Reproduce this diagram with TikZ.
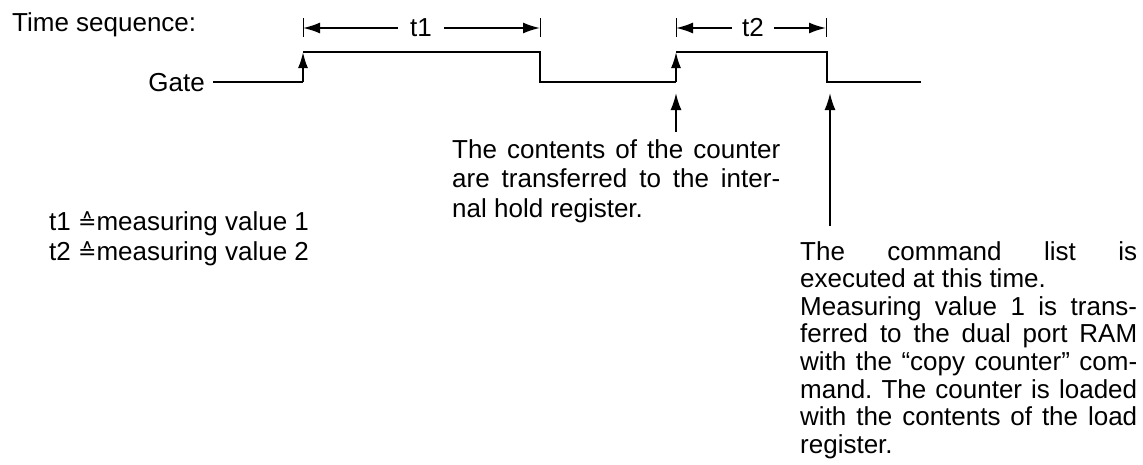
\documentclass[tikz,border=0pt]{standalone}
\usepackage{fontspec}
\setmainfont{Liberation Sans}
\newfontfamily\symfont{DejaVu Sans}
\usetikzlibrary{arrows.meta}
\newcommand\jline[2]{\hbox to #1{#2}}
\hbadness=10000
\frenchspacing
\begin{document}
\begin{tikzpicture}[x=1pt,y=-1pt,
  txt/.style={inner sep=0pt, font=\fontsize{26}{27.7}\selectfont\frenchspacing},
  sig/.style={line width=1.9pt, line join=miter},
  edgearrow/.style={line width=1.9pt, -{Latex[length=16pt,width=10pt]}},
  dim/.style={line width=1.7pt, -{Latex[length=17pt,width=11pt]}},
  tickline/.style={line width=0.9pt},
  pointer/.style={line width=1.9pt, -{Latex[length=17pt,width=11pt]}},
  tlabel/.style={txt, inner xsep=12pt}
]
\useasboundingbox (0,0) rectangle (1143,464);

% texts
\node[txt, anchor=base west] (title) at (12,31) {Time sequence:};
\node[txt, anchor=base east] (gate) at (205,91) {Gate};

% signal coordinates
\coordinate (g0) at (213,82);
\coordinate (r1l) at (303,82);
\coordinate (r1h) at (303,52);
\coordinate (f1h) at (540,52);
\coordinate (f1l) at (540,82);
\coordinate (r2l) at (676,82);
\coordinate (r2h) at (676,52);
\coordinate (f2h) at (827,52);
\coordinate (f2l) at (827,82);
\coordinate (gend) at (921,82);

\draw[sig] (g0) -- (r1l);
\draw[sig] (r1h) -- (f1h) -- (f1l) -- (r2l);
\draw[sig] (r2h) -- (f2h) -- (f2l) -- (gend);
\draw[edgearrow] (r1l) -- (r1h);
\draw[edgearrow] (r2l) -- (r2h);

% dimension t1
\coordinate (k1a) at (303,18); \coordinate (k1b) at (303,37);
\coordinate (k2a) at (540,18); \coordinate (k2b) at (540,37);
\coordinate (k1) at (303,28); \coordinate (k2) at (540,28);
\draw[tickline] (k1a) -- (k1b);
\draw[tickline] (k2a) -- (k2b);
\node[tlabel] (t1) at (421,28) {t1};
\draw[dim] (t1.west) -- (k1);
\draw[dim] (t1.east) -- (k2);

% dimension t2
\coordinate (k3a) at (676,18); \coordinate (k3b) at (676,37);
\coordinate (k4a) at (826,18); \coordinate (k4b) at (826,37);
\coordinate (k3) at (676,28); \coordinate (k4) at (826,28);
\draw[tickline] (k3a) -- (k3b);
\draw[tickline] (k4a) -- (k4b);
\node[tlabel, inner xsep=10pt] (t2) at (753,28) {t2};
\draw[dim] (t2.west) -- (k3);
\draw[dim] (t2.east) -- (k4);

% pointers
\coordinate (p1s) at (676,132);
\coordinate (p1e) at (676,93);
\draw[pointer] (p1s) -- (p1e);
\coordinate (p2s) at (830,226);
\coordinate (p2e) at (830,93);
\draw[pointer] (p2s) -- (p2e);

% left note block
\node[txt, anchor=base west] (hold) at (452,158) {\vtop{\baselineskip=29.5pt
  \jline{328pt}{The contents of the counter}%
  \jline{328pt}{are transferred to the inter-}%
  \hbox{nal hold register.}}};

% legend
\node[txt, anchor=base west] (m1) at (49,230) {t1 \raisebox{1pt}{\symfont\fontsize{22}{22}\selectfont ≙}measuring value 1};
\node[txt, anchor=base west] (m2) at (49,260) {t2 \raisebox{1pt}{\symfont\fontsize{22}{22}\selectfont ≙}measuring value 2};

% right note block
\node[txt, anchor=base west] (cmd) at (800,260) {\vtop{\baselineskip=27.6pt
  \jline{337pt}{The command list is}%
  \hbox{executed at this time.}%
  \jline{337pt}{Measuring value 1 is trans-}%
  \jline{337pt}{ferred to the dual port RAM}%
  \jline{337pt}{with the “copy counter” com-}%
  \jline{337pt}{mand. The counter is loaded}%
  \jline{337pt}{with the contents of the load}%
  \hbox{register.}}};
\end{tikzpicture}
\end{document}
